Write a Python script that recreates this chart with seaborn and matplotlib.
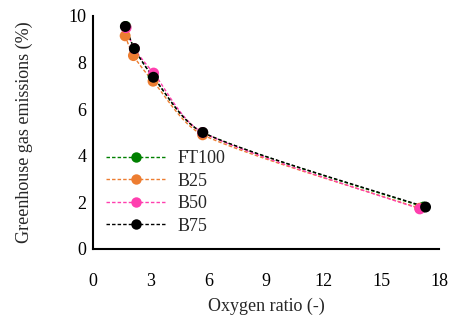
import numpy as np
import matplotlib
matplotlib.use("Agg")
import matplotlib.pyplot as plt
from matplotlib.lines import Line2D
import seaborn as sns

# Data
series_names = ["FT100", "B25", "B50", "B75"]
series_colors = ["#008000", "#ED7D31", "#FF3FAF", "#000000"]

ft100_x = [1.70, 2.15, 3.12, 5.70, 17.20]
ft100_y = [9.55, 8.60, 7.40, 5.00, 1.80]
b25_x = [1.67, 2.10, 3.12, 5.70, 17.00]
b25_y = [9.15, 8.30, 7.20, 4.90, 1.75]
b50_x = [1.72, 2.15, 3.15, 5.70, 17.00]
b50_y = [9.50, 8.60, 7.55, 5.00, 1.72]
b75_x = [1.68, 2.15, 3.14, 5.71, 17.30]
b75_y = [9.55, 8.60, 7.37, 5.00, 1.80]

xs = [ft100_x, b25_x, b50_x, b75_x]
ys = [ft100_y, b25_y, b50_y, b75_y]

x_ticks = [0, 3, 6, 9, 12, 15, 18]
y_ticks = [0, 2, 4, 6, 8, 10]


def smooth_curve(x, y, n=40):
    # Bezier smoothing like a spreadsheet "smoothed line",
    # control arms clamped to a third of the chord
    p = np.column_stack([x, y]).astype(float)
    p = np.vstack([p[0], p, p[-1]])
    out = []
    t = np.linspace(0, 1, n)[:, None]
    for i in range(1, len(p) - 2):
        p0, p1, p2, p3 = p[i - 1], p[i], p[i + 1], p[i + 2]
        chord = np.linalg.norm(p2 - p1) / 3
        d1 = (p2 - p0) / 6
        d2 = (p3 - p1) / 6
        if np.linalg.norm(d1) > chord:
            d1 = d1 * chord / np.linalg.norm(d1)
        if np.linalg.norm(d2) > chord:
            d2 = d2 * chord / np.linalg.norm(d2)
        c1 = p1 + d1
        c2 = p2 - d2
        seg = ((1 - t) ** 3) * p1 + 3 * ((1 - t) ** 2) * t * c1 + 3 * (1 - t) * t ** 2 * c2 + t ** 3 * p2
        out.append(seg)
    out = np.vstack(out)
    return out[:, 0], out[:, 1]


sns.set_style("white")
plt.rcParams["font.family"] = ["Liberation Serif", "DejaVu Serif"]
plt.rcParams["font.size"] = 13

fig, ax = plt.subplots(figsize=(4.54, 3.2), dpi=100)
fig.subplots_adjust(left=0.205, right=0.967, top=0.95, bottom=0.222)

for name, color, x, y in zip(series_names, series_colors, xs, ys):
    sx, sy = smooth_curve(x, y)
    sns.lineplot(x=sx, y=sy, sort=False, estimator=None, color=color,
                 linestyle=(0, (2.5, 1.5)), linewidth=1.0, ax=ax)
    sns.scatterplot(x=x, y=y, color=color, s=62, edgecolor="none", ax=ax, zorder=3)

ax.set_xlim(0, 18)
ax.set_ylim(0, 10)
ax.set_xticks(x_ticks)
ax.set_yticks(y_ticks)
ax.set_xlabel("Oxygen ratio (-)", fontsize=13, labelpad=6)
ax.set_ylabel("Greenhouse gas emissions (%)", fontsize=13, labelpad=25)
ax.tick_params(axis="both", direction="in", length=5, width=1.2, labelsize=13, colors="black")
ax.tick_params(axis="x", pad=17)
ax.tick_params(axis="y", pad=5)

sns.despine(ax=ax)
for side in ["left", "bottom"]:
    ax.spines[side].set_linewidth(1.5)
    ax.spines[side].set_color("black")

handles = [Line2D([0], [0], color=c, linestyle=(0, (2.5, 1.5)), linewidth=1.0,
                  marker="o", markersize=7.5, markeredgecolor="none")
           for c in series_colors]
ax.legend(handles, series_names, loc="lower left", bbox_to_anchor=(-0.005, 0.0),
          frameon=False, handlelength=3.3, handletextpad=0.7, labelspacing=0.3,
          fontsize=13, borderpad=0.3)

plt.savefig("out.png", dpi=100)
plt.close()
